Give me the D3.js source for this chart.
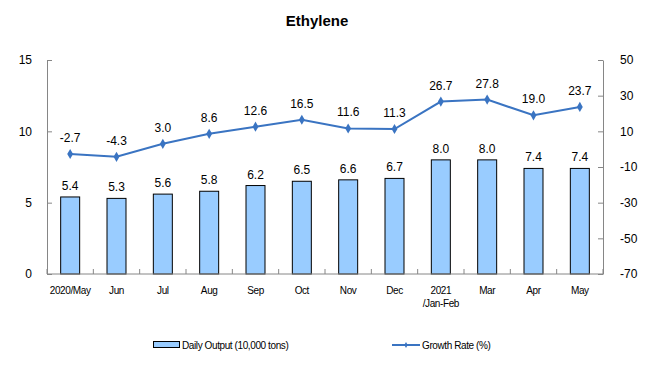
<!DOCTYPE html>
<html><head><meta charset="utf-8">
<script src="https://cdn.jsdelivr.net/npm/d3@7"></script>
<style>body{margin:0;background:#fff}svg{display:block;font-family:"Liberation Sans",Arial,sans-serif}</style>
</head><body><svg id="c" width="653" height="390"></svg>
<script>
const categories = ["2020/May","Jun","Jul","Aug","Sep","Oct","Nov","Dec","2021\n/Jan-Feb","Mar","Apr","May"];
const dailyOutput = [5.4,5.3,5.6,5.8,6.2,6.5,6.6,6.7,8.0,8.0,7.4,7.4];
const growthRate = [-2.7,-4.3,3.0,8.6,12.6,16.5,11.6,11.3,26.7,27.8,19.0,23.7];
const leftTicks = [0,5,10,15];
const rightTicks = [-70,-50,-30,-10,10,30,50];

const svg = d3.select("#c");
const L = 47, R = 603, T = 60, B = 274;
const axisColor = "#868686";
const lineColor = "#3a74c2";
const barColor = "#99ccff";

const x = d3.scaleBand().domain(categories).range([L, R]).paddingInner(0.59).paddingOuter(0.295);
const xOuter = d3.scaleBand().domain(categories).range([L, R]);
const yL = d3.scaleLinear().domain([0, 15]).range([B, T]);
const yR = d3.scaleLinear().domain([-70, 50]).range([B, T]);

svg.append("text").attr("x", 317).attr("y", 26).attr("text-anchor", "middle")
  .attr("font-size", 15).attr("font-weight", "bold").text("Ethylene");

// bars
svg.append("g").selectAll("rect").data(dailyOutput).join("rect")
  .attr("x", (d, i) => x(categories[i]))
  .attr("y", d => yL(d))
  .attr("width", x.bandwidth())
  .attr("height", d => B - yL(d))
  .attr("fill", barColor).attr("stroke", "#000").attr("stroke-width", 1);

svg.append("g").selectAll("text").data(dailyOutput).join("text")
  .attr("x", (d, i) => x(categories[i]) + x.bandwidth() / 2)
  .attr("y", d => yL(d) - 7)
  .attr("text-anchor", "middle").attr("font-size", 12)
  .text(d => d.toFixed(1));

// axes
const fmt = d => String(d);
const gL = svg.append("g").attr("transform", `translate(${L},0)`)
  .call(d3.axisLeft(yL).tickValues(leftTicks).tickFormat(fmt).tickSizeInner(-5).tickSizeOuter(0).tickPadding(15));
const gR = svg.append("g").attr("transform", `translate(${R},0)`)
  .call(d3.axisRight(yR).tickValues(rightTicks).tickFormat(fmt).tickSizeInner(-5).tickSizeOuter(0).tickPadding(17));
[gL, gR].forEach(g => {
  g.selectAll("line,path").attr("stroke", axisColor);
  g.selectAll("text").attr("font-size", 12).attr("fill", "#000").attr("font-family", "Liberation Sans, Arial, sans-serif");
});

// x axis
const gX = svg.append("g");
gX.append("line").attr("x1", L).attr("x2", R).attr("y1", B).attr("y2", B).attr("stroke", axisColor);
gX.selectAll("line.t").data(d3.range(categories.length + 1)).join("line").attr("class", "t")
  .attr("x1", i => L + i * xOuter.step()).attr("x2", i => L + i * xOuter.step())
  .attr("y1", B - 5).attr("y2", B).attr("stroke", axisColor);
gX.selectAll("text").data(categories).join("text")
  .attr("x", d => xOuter(d) + xOuter.bandwidth() / 2)
  .attr("y", 294).attr("text-anchor", "middle").attr("font-size", 10).attr("letter-spacing", "-0.4")
  .each(function(d) {
    const parts = d.split("\n");
    d3.select(this).selectAll("tspan").data(parts).join("tspan")
      .attr("x", xOuter(d) + xOuter.bandwidth() / 2).attr("dy", (p, j) => j ? 13 : 0).text(p => p);
  });

// line
const cx = i => xOuter(categories[i]) + xOuter.bandwidth() / 2;
svg.append("path").datum(growthRate)
  .attr("d", d3.line().x((d, i) => cx(i)).y(d => yR(d)))
  .attr("fill", "none").attr("stroke", lineColor).attr("stroke-width", 2);
svg.append("g").selectAll("path").data(growthRate).join("path")
  .attr("d", d3.symbol(d3.symbolDiamond, 30))
  .attr("transform", (d, i) => `translate(${cx(i)},${yR(d)})`)
  .attr("fill", lineColor);
svg.append("g").selectAll("text").data(growthRate).join("text")
  .attr("x", (d, i) => cx(i)).attr("y", d => yR(d) - 12)
  .attr("text-anchor", "middle").attr("font-size", 12)
  .text(d => d.toFixed(1));

// legend
const lg = svg.append("g");
lg.append("rect").attr("x", 153.5).attr("y", 341.5).attr("width", 26).attr("height", 6)
  .attr("fill", barColor).attr("stroke", "#000");
lg.append("text").attr("x", 182).attr("y", 349).attr("font-size", 10).attr("letter-spacing", "-0.4")
  .text("Daily Output (10,000 tons)");
lg.append("line").attr("x1", 392).attr("x2", 420).attr("y1", 345).attr("y2", 345)
  .attr("stroke", lineColor).attr("stroke-width", 2);
lg.append("path").attr("d", d3.symbol(d3.symbolDiamond, 10)).attr("transform", "translate(406,345)").attr("fill", lineColor);
lg.append("text").attr("x", 422).attr("y", 349).attr("font-size", 10).attr("letter-spacing", "-0.4")
  .text("Growth Rate (%)");
</script></body></html>
